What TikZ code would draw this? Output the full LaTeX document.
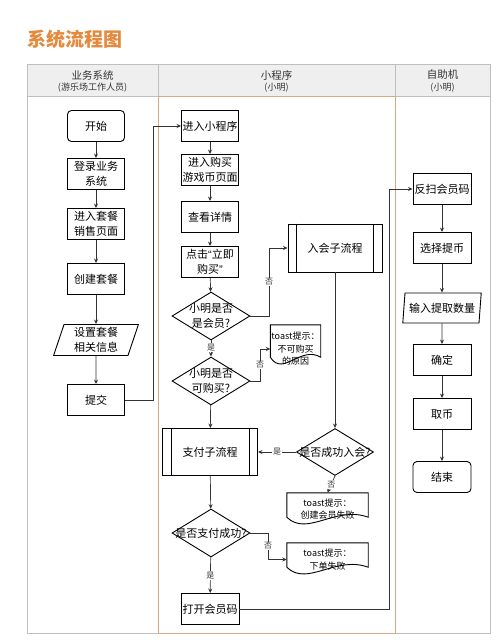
\documentclass[tikz,border=0pt]{standalone}
\usepackage{fontspec}
\setmainfont{Noto Sans CJK SC}
\newfontfamily\latinq{Liberation Sans}
\usetikzlibrary{shapes.geometric,calc,arrows.meta}
\definecolor{ttl}{HTML}{E5893D}
\definecolor{hdrfill}{HTML}{EFEFEF}
\definecolor{hdrline}{HTML}{BFBFBF}
\definecolor{lane}{HTML}{D9A882}
\definecolor{conn}{HTML}{333333}
\definecolor{hdrtext}{HTML}{333333}
\newcommand\docshape[2]{%
  \draw[black, line width=0.9pt] (#1.north west) -- (#1.north east) -- ($(#1.south east)+(0,-#2)$)
    .. controls ($(#1.south west)!0.6!(#1.south east)+(0,-#2-12)$) and ($(#1.south west)!0.25!(#1.south east)+(0,-#2+20)$) ..
    ($(#1.south west)+(0,-#2)$) -- cycle;}
\newcommand\subrlines[1]{%
  \draw[black, line width=0.9pt] ($(#1.north west)+(9,0)$) -- ($(#1.south west)+(9,0)$)
    ($(#1.north east)+(-9,0)$) -- ($(#1.south east)+(-9,0)$);}
\tikzset{
  box/.style={draw=black, line width=0.9pt, rectangle, minimum width=57pt, minimum height=31pt,
    inner sep=1pt, align=center, font=\fontsize{11}{15}\selectfont},
  rbox/.style={box, rounded corners=4pt},
  para/.style={draw=black, line width=0.9pt, trapezium, trapezium left angle=74, trapezium right angle=106,
    trapezium stretches=true, minimum width=85pt, minimum height=31pt, inner sep=0pt, align=center,
    font=\fontsize{11}{15}\selectfont},
  subr/.style={box, minimum width=95pt, minimum height=47pt},
  dia/.style={draw=black, line width=0.9pt, diamond, minimum width=78pt, minimum height=48pt, inner sep=0pt},
  dtext/.style={align=center, font=\fontsize{11}{15}\selectfont},
  doc/.style={inner sep=0pt, align=center, font=\fontsize{9}{12.5}\selectfont},
  arr/.style={draw=conn, line width=0.7pt, -{Stealth[length=4.5pt,width=4pt]}},
  yn/.style={fill=white, inner sep=1pt, font=\fontsize{8}{9}\selectfont, text=conn},
  hdr/.style={text=hdrtext, inner sep=0pt, font=\fontsize{10.5}{12}\selectfont},
  hdrsub/.style={text=hdrtext, inner sep=0pt, font=\fontsize{9}{11}\selectfont},
}
\begin{document}
\begin{tikzpicture}[x=1pt,y=-1pt]
\useasboundingbox (0,0) rectangle (500,643);
\node[anchor=west, inner sep=0pt, text=ttl, font=\fontsize{19}{22}\selectfont\bfseries] (title) at (27,39) {系统流程图};
% swimlanes
\draw[hdrline, fill=hdrfill, line width=0.6pt] (27,64) rectangle (490,96);
\draw[hdrline, line width=0.6pt] (158,64) -- (158,96) (395,64) -- (395,96);
\draw[hdrline, line width=0.6pt] (27,96) rectangle (158,633);
\draw[hdrline, line width=0.6pt] (395,96) rectangle (490,633);
\draw[lane, line width=0.8pt] (158,96) rectangle (395,633);
\node[hdr] (h1) at (92.5,75) {业务系统};
\node[hdrsub] (h1s) at (92.5,88) {(游乐场工作人员)};
\node[hdr] (h2) at (276.5,75) {小程序};
\node[hdrsub] (h2s) at (276.5,88) {(小明)};
\node[hdr] (h3) at (442.5,75) {自助机};
\node[hdrsub] (h3s) at (442.5,88) {(小明)};
% left lane
\node[rbox] (start) at (96,126) {开始};
\node[box] (login) at (96,174) {登录业务\\系统};
\node[box] (pkgpage) at (96,224) {进入套餐\\销售页面};
\node[box] (create) at (96,279) {创建套餐};
\node[para] (setinfo) at (96,340) {设置套餐\\相关信息};
\node[box] (submit) at (96,400) {提交};
% middle lane
\node[box] (mini) at (210,126) {进入小程序};
\node[box] (buypage) at (210,170) {进入购买\\游戏币页面};
\node[box] (detail) at (210,217) {查看详情};
\node[box] (click) at (210,262) {点击{\latinq “}立即\\购买{\latinq ”}};
\node[dia, label={[dtext]center:小明是否\\是会员?}] (d1) at (211,316) {};
\node[dia, label={[dtext]center:小明是否\\可购买?}] (d2) at (211,381) {};
\node[subr] (pay) at (210,452) {支付子流程};
\subrlines{pay}
\node[dia, label={[dtext]center:是否支付成功?}] (d3) at (211,533) {};
\node[box, minimum width=58pt] (open) at (210,609) {打开会员码};
\node[subr, minimum width=94pt, minimum height=48pt] (join) at (335,248) {入会子流程};
\subrlines{join}
\node[dia, minimum width=77pt, minimum height=47pt, label={[dtext]center:是否成功入会?}] (d4) at (335,452) {};
\node[doc, minimum width=50pt, minimum height=48pt] (toast1) at (295.5,349) {toast提示：\\不可购买\\的原因};
\docshape{toast1}{16}
\node[doc, minimum width=81pt, minimum height=32pt] (toast2) at (327.5,509) {toast提示：\\创建会员失败};
\docshape{toast2}{8}
\node[doc, minimum width=81pt, minimum height=33pt] (toast3) at (327.5,559.5) {toast提示：\\下单失败};
\docshape{toast3}{9}
% right lane
\node[box, minimum width=58pt] (fansao) at (442,189) {反扫会员码};
\node[box, minimum width=58pt] (select) at (442,248) {选择提币};
\node[para, minimum width=79pt, minimum height=30pt, trapezium left angle=79, trapezium right angle=101] (input) at (442,308) {输入提取数量};
\node[box, minimum width=58pt] (confirm) at (442,360) {确定};
\node[box, minimum width=58pt] (take) at (442,414) {取币};
\node[rbox, minimum width=58pt] (end) at (442,477) {结束};
% helper coordinates
\coordinate (lx) at (153,0);
\coordinate (rx) at (389,0);
\coordinate (nx1) at (269,0);
\coordinate (nx2) at (260,0);
\coordinate (nx3) at (268,0);
% connectors left lane
\draw[arr] (start) -- (login);
\draw[arr] (login) -- (pkgpage);
\draw[arr] (pkgpage) -- (create);
\draw[arr] (create) -- (setinfo);
\draw[arr] (setinfo) -- (submit);
\draw[arr] (submit.east) -| (lx |- mini.west) -- (mini.west);
% middle
\draw[arr] (mini) -- (buypage);
\draw[arr] (buypage) -- (detail);
\draw[arr] (detail) -- (click);
\draw[arr] (click) -- (d1);
\draw[arr] (d1) -- node[yn, pos=0.45] {是} (d2);
\draw[arr] (d1.east) -| (nx1 |- join.west) -- (join.west);
\node[yn] (no1) at (269,282) {否};
\draw[arr] (d2.east) -| (nx2 |- toast1.west) -- (toast1.west);
\node[yn] (no2) at (260,365) {否};
\draw[arr] (d2) -- (pay);
\draw[arr] (join) -- (d4);
\draw[arr] (d4.west) -- node[yn] {是} (pay.east);
\draw[arr] (d4.south) -- node[yn, pos=0.5] {否} (toast2.north);
\draw[arr] (pay) -- (d3);
\draw[arr] (d3.east) -| (nx3 |- toast3.west) -- (toast3.west);
\node[yn] (no3) at (268,546) {否};
\draw[arr] (d3) -- node[yn, pos=0.5] {是} (open);
\draw[arr] (open.east) -| (rx |- fansao.west) -- (fansao.west);
% right lane
\draw[arr] (fansao) -- (select);
\draw[arr] (select) -- (input);
\draw[arr] (input) -- (confirm);
\draw[arr] (confirm) -- (take);
\draw[arr] (take) -- (end);
\end{tikzpicture}
\end{document}
